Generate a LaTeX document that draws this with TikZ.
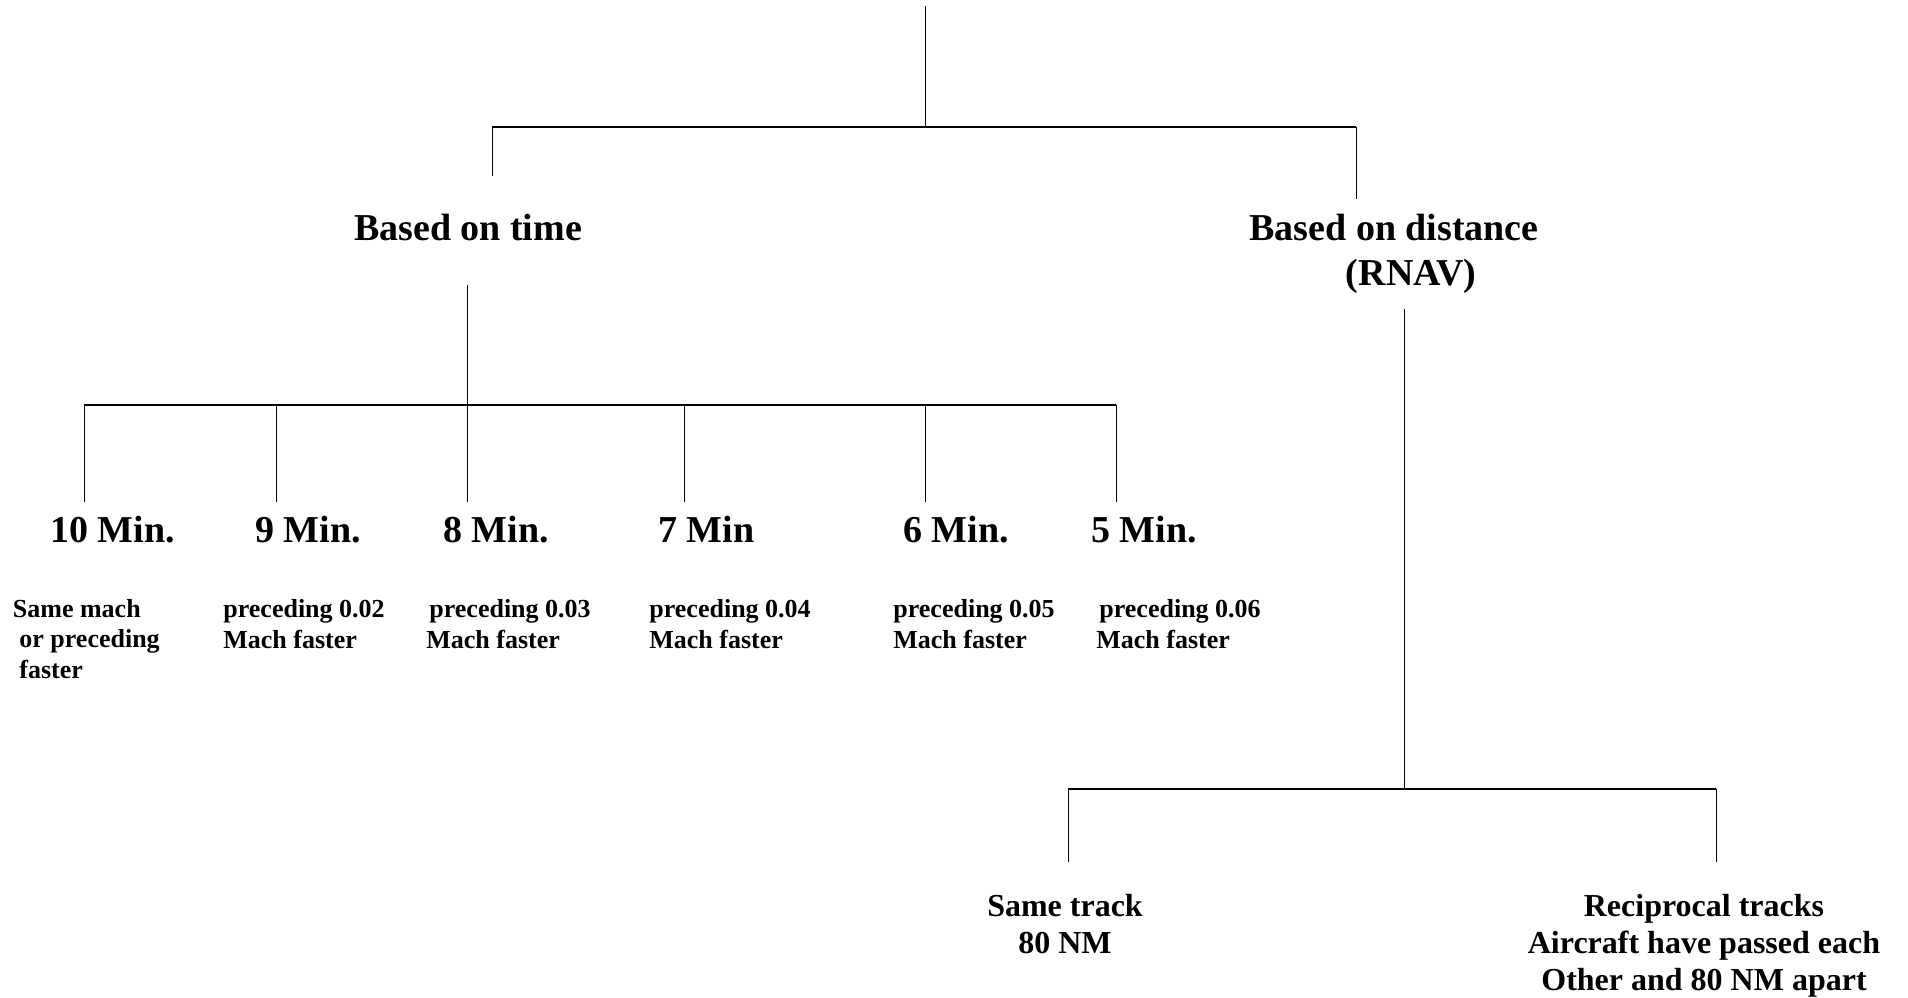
\documentclass[tikz,border=0pt]{standalone}
\usepackage{fontspec}
\setmainfont{Liberation Serif}
\begin{document}
\begin{tikzpicture}[x=0.5pt,y=-0.5pt,
  title/.style={font=\fontsize{19}{22.5}\selectfont\bfseries, inner sep=0pt, align=center, anchor=base},
  minlab/.style={font=\fontsize{19}{22.5}\selectfont\bfseries, inner sep=0pt, anchor=base west},
  note/.style={font=\fontsize{13}{15.25}\selectfont\bfseries, inner sep=0pt, align=left, anchor=base west},
  leaf/.style={font=\fontsize{16}{18.5}\selectfont\bfseries, inner sep=0pt, align=center, anchor=base},
  vline/.style={line width=0.5pt},
  hbar/.style={line width=1pt}]
\useasboundingbox[fill=white] (0,0) rectangle (1908,997);

% text nodes (base anchor = baseline of the last line)
\node[title] (time) at (468,240) {Based on time};
\node[title] (dist) at (1394,285) {Based on distance\\\hspace*{17pt}(RNAV)};

\node[minlab] (m10) at (50,542) {10 Min.};
\node[minlab] (m9) at (255,542) {9 Min.};
\node[minlab] (m8) at (443,542) {8 Min.};
\node[minlab] (m7) at (658,542) {7 Min};
\node[minlab] (m6) at (903,542) {6 Min.};
\node[minlab] (m5) at (1091,542) {5 Min.};

\node[note] (n10) at (12.5,678) {Same mach\\\hspace*{3.25pt}or preceding\\\hspace*{3.25pt}faster};
\node[note] (n9) at (223,648) {preceding 0.02\\Mach faster};
\node[note] (n8) at (426,648) {\hspace*{1.5pt}preceding 0.03\\Mach faster};
\node[note] (n7) at (649,648) {preceding 0.04\\Mach faster};
\node[note] (n6) at (893,648) {preceding 0.05\\Mach faster};
\node[note] (n5) at (1096,648) {\hspace*{1.5pt}preceding 0.06\\Mach faster};

\node[leaf] (same) at (1065,953) {Same track\\80 NM};
\node[leaf] (recip) at (1704,990) {Reciprocal tracks\\Aircraft have passed each\\Other and 80 NM apart};

% junction coordinates
\coordinate (top) at (925,6);
\coordinate (j1) at (925,127);
\coordinate (j1l) at (492,127);
\coordinate (j1r) at (1356,127);
\coordinate (timetop) at (492,176);
\coordinate (disttop) at (1356,199);

\coordinate (tstem) at (467,285);
\coordinate (j2) at (467,405);
\coordinate (j2l) at (84,405);
\coordinate (j2b) at (276,405);
\coordinate (j2d) at (684,405);
\coordinate (j2e) at (925,405);
\coordinate (j2r) at (1116,405);
\coordinate (d10) at (84,502);
\coordinate (d9) at (276,502);
\coordinate (d8) at (467,502);
\coordinate (d7) at (684,502);
\coordinate (d6) at (925,502);
\coordinate (d5) at (1116,502);

\coordinate (dstem) at (1404,309);
\coordinate (j3) at (1404,789);
\coordinate (j3l) at (1068,789);
\coordinate (j3r) at (1716,789);
\coordinate (dsame) at (1068,862);
\coordinate (drecip) at (1716,862);

% connectors
\draw[vline] (top) -- (j1);
\draw[hbar] (j1l) -- (j1r);
\draw[vline] (j1l) -- (timetop);
\draw[vline] (j1r) -- (disttop);

\draw[vline] (tstem) -- (j2);
\draw[hbar] (j2l) -- (j2r);
\draw[vline] (j2l) -- (d10);
\draw[vline] (j2b) -- (d9);
\draw[vline] (j2) -- (d8);
\draw[vline] (j2d) -- (d7);
\draw[vline] (j2e) -- (d6);
\draw[vline] (j2r) -- (d5);

\draw[vline] (dstem) -- (j3);
\draw[hbar] (j3l) -- (j3r);
\draw[vline] (j3l) -- (dsame);
\draw[vline] (j3r) -- (drecip);
\end{tikzpicture}
\end{document}
